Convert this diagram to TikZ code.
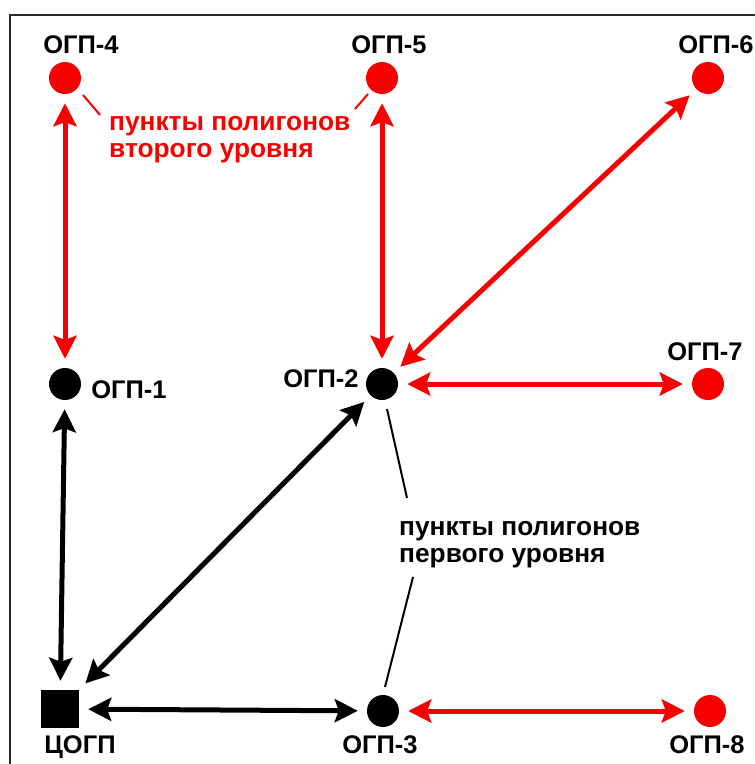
\documentclass[tikz,border=0pt]{standalone}
\usepackage{fontspec}
\setmainfont{Liberation Sans}
\usetikzlibrary{arrows.meta}
\definecolor{ptred}{RGB}{248,0,0}
\definecolor{framegray}{RGB}{40,40,40}
\begin{document}
\begin{tikzpicture}[x=1pt,y=-1pt,
  redpt/.style={circle,fill=ptred,minimum size=32pt,inner sep=0pt},
  blkpt/.style={circle,fill=black,minimum size=32pt,inner sep=0pt},
  basept/.style={rectangle,fill=black,minimum size=38pt,inner sep=0pt},
  lbl/.style={font=\fontsize{25.5}{28}\selectfont\bfseries,inner sep=0pt,anchor=base},
  note/.style={font=\fontsize{26.3}{27}\selectfont\bfseries,inner sep=0pt,anchor=north west,align=left},
  link/.style={line width=5pt,{Stealth[length=23pt,width=23pt,inset=4pt]}-{Stealth[length=23pt,width=23pt,inset=4pt]},shorten <=9pt,shorten >=9pt},
  redlink/.style={link,draw=ptred},
  blklink/.style={link,draw=black},
  leader/.style={line width=2pt}]
\useasboundingbox (0,0) rectangle (755,764);
\fill[white] (0,0) rectangle (755,764);
% outer frame, running off the right and bottom edges
\draw[framegray,line width=2pt] (9.5,15) rectangle (800,800);

% points
\node[redpt] (o4) at (65,78) {};
\node[redpt] (o5) at (382,78) {};
\node[redpt] (o6) at (708,78) {};
\node[blkpt] (o1) at (65,384) {};
\node[blkpt] (o2) at (382,384) {};
\node[redpt] (o7) at (708,384) {};
\node[basept] (c) at (60,709) {};
\node[blkpt] (o3) at (383,711) {};
\node[redpt] (o8) at (710,711) {};

% point labels
\node[lbl] (l4) at (81,53) {ОГП-4};
\node[lbl] (l5) at (389,53) {ОГП-5};
\node[lbl] (l6) at (716,53) {ОГП-6};
\node[lbl] (l1) at (129,398) {ОГП-1};
\node[lbl] (l2) at (321,387) {ОГП-2};
\node[lbl] (l7) at (705,360) {ОГП-7};
\node[lbl] (lc) at (80,753) {ЦОГП};
\node[lbl] (l3) at (380,753) {ОГП-3};
\node[lbl] (l8) at (707,753) {ОГП-8};

% connections
\draw[redlink] (o4) -- (o1);
\draw[redlink] (o5) -- (o2);
\draw[redlink] (o6) -- (o2);
\draw[redlink] (o2) -- (o7);
\draw[redlink] (o3) -- (o8);
\draw[blklink] (o1) -- (c);
\draw[blklink] (c) -- (o2);
\draw[blklink] (c) -- (o3);

% captions with leaders
\node[note,text=ptred] (n2) at (109,116) {пункты полигонов\\второго уровня};
\node[note,text=black] (n1) at (399,521) {пункты полигонов\\первого уровня};
\coordinate (a4) at (83,95);
\coordinate (b4) at (100,115);
\coordinate (a5) at (368,94);
\coordinate (b5) at (355,109);
\coordinate (a2) at (387,409);
\coordinate (b2) at (407,498);
\coordinate (a3) at (413,577);
\coordinate (b3) at (385,687);
\draw[leader,ptred] (a4) -- (b4);
\draw[leader,ptred] (a5) -- (b5);
\draw[leader,black] (a2) -- (b2);
\draw[leader,black] (a3) -- (b3);
\end{tikzpicture}
\end{document}
